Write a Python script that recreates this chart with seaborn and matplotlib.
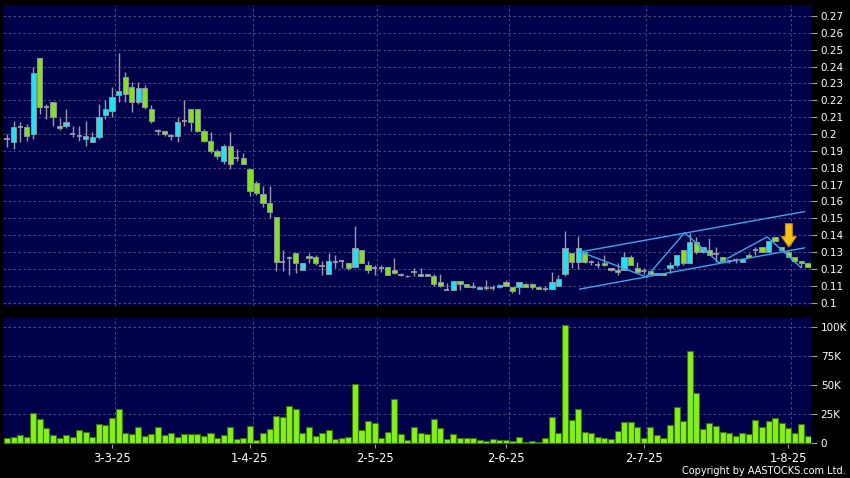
import numpy as np
import pandas as pd
import matplotlib
matplotlib.use("Agg")
import matplotlib.pyplot as plt
import seaborn as sns
from matplotlib.patches import FancyArrow

# ---------------- data ----------------
opens = [0.197, 0.195, 0.204, 0.204, 0.200, 0.245, 0.216, 0.219, 0.2035, 0.2045,
         0.200, 0.199, 0.197, 0.195, 0.198, 0.211, 0.2135, 0.223, 0.234, 0.228,
         0.219, 0.227, 0.215, 0.202, 0.202, 0.199, 0.199, 0.208, 0.215, 0.215,
         0.202, 0.196, 0.190, 0.184, 0.193, 0.1855, 0.1855, 0.1795, 0.171, 0.1645,
         0.159, 0.151, 0.124, 0.1265, 0.1295, 0.1195, 0.1265, 0.127, 0.122, 0.117,
         0.124, 0.1245, 0.1235, 0.121, 0.1313, 0.1225, 0.1205, 0.1205, 0.121, 0.1195,
         0.1165, 0.116, 0.118, 0.117, 0.1155, 0.116, 0.1122, 0.1075, 0.1075, 0.1128,
         0.111, 0.109, 0.108, 0.1087, 0.1087, 0.109, 0.112, 0.109, 0.109, 0.111,
         0.111, 0.109, 0.108, 0.108, 0.110, 0.117, 0.1295, 0.1242, 0.130, 0.1238,
         0.1225, 0.1235, 0.1205, 0.1195, 0.1195, 0.127, 0.1205, 0.119, 0.119, 0.1165,
         0.1176, 0.1205, 0.1222, 0.1313, 0.1235, 0.136, 0.130, 0.131, 0.129, 0.127,
         0.1247, 0.1255, 0.1242, 0.128, 0.131, 0.133, 0.130, 0.139, 0.133, 0.130,
         0.127, 0.1247, 0.1235]
closes = [0.197, 0.204, 0.204, 0.199, 0.236, 0.216, 0.216, 0.210, 0.205, 0.207,
          0.200, 0.199, 0.199, 0.198, 0.210, 0.215, 0.222, 0.2255, 0.224, 0.219,
          0.227, 0.216, 0.2075, 0.202, 0.200, 0.199, 0.207, 0.208, 0.207, 0.202,
          0.196, 0.190, 0.187, 0.193, 0.182, 0.1855, 0.1825, 0.166, 0.165, 0.159,
          0.154, 0.124, 0.124, 0.1265, 0.1235, 0.1235, 0.1277, 0.1235, 0.122, 0.1245,
          0.124, 0.1245, 0.1205, 0.1325, 0.1235, 0.1195, 0.1205, 0.1205, 0.1165, 0.1176,
          0.1165, 0.1155, 0.118, 0.1155, 0.117, 0.111, 0.110, 0.1075, 0.1128, 0.111,
          0.109, 0.109, 0.109, 0.1087, 0.1087, 0.1105, 0.110, 0.107, 0.112, 0.109,
          0.109, 0.108, 0.108, 0.112, 0.114, 0.1325, 0.1242, 0.1325, 0.1242, 0.1238,
          0.1225, 0.1225, 0.1195, 0.118, 0.127, 0.1222, 0.118, 0.119, 0.117, 0.1176,
          0.1165, 0.1222, 0.1284, 0.1235, 0.136, 0.130, 0.133, 0.1284, 0.129, 0.1247,
          0.1247, 0.1255, 0.126, 0.127, 0.131, 0.130, 0.1367, 0.1367, 0.131, 0.127,
          0.1247, 0.1235, 0.121]
highs = [0.200, 0.2075, 0.207, 0.206, 0.240, 0.245, 0.218, 0.219, 0.2095, 0.215,
         0.2045, 0.2045, 0.208, 0.201, 0.218, 0.220, 0.228, 0.248, 0.2365, 0.231,
         0.231, 0.229, 0.217, 0.2027, 0.202, 0.1998, 0.210, 0.220, 0.215, 0.215,
         0.203, 0.201, 0.191, 0.194, 0.201, 0.191, 0.189, 0.1795, 0.172, 0.169,
         0.169, 0.151, 0.131, 0.1275, 0.1295, 0.1235, 0.1295, 0.1285, 0.1245, 0.1295,
         0.1285, 0.1255, 0.1235, 0.1456, 0.1313, 0.1245, 0.1224, 0.1224, 0.121, 0.1265,
         0.1176, 0.1165, 0.1205, 0.1205, 0.117, 0.117, 0.117, 0.1115, 0.1128, 0.1128,
         0.111, 0.1125, 0.1095, 0.1135, 0.1105, 0.111, 0.1135, 0.109, 0.112, 0.1115,
         0.1115, 0.109, 0.110, 0.118, 0.1165, 0.1426, 0.1295, 0.1397, 0.130, 0.1255,
         0.1245, 0.1285, 0.1205, 0.1236, 0.130, 0.128, 0.1242, 0.1205, 0.119, 0.1176,
         0.1176, 0.1242, 0.1284, 0.1313, 0.1414, 0.139, 0.133, 0.1385, 0.1331, 0.127,
         0.1255, 0.1265, 0.126, 0.1295, 0.133, 0.133, 0.1367, 0.139, 0.133, 0.1315,
         0.127, 0.1247, 0.1235]
lows = [0.192, 0.191, 0.195, 0.196, 0.197, 0.212, 0.209, 0.205, 0.2025, 0.2036,
        0.1985, 0.196, 0.193, 0.195, 0.197, 0.209, 0.210, 0.219, 0.219, 0.213,
        0.2175, 0.215, 0.2065, 0.1992, 0.199, 0.1962, 0.195, 0.2045, 0.2015, 0.201,
        0.195, 0.189, 0.185, 0.182, 0.179, 0.184, 0.182, 0.163, 0.164, 0.157,
        0.150, 0.119, 0.119, 0.1165, 0.1176, 0.1195, 0.1235, 0.1225, 0.1165, 0.117,
        0.1205, 0.1205, 0.1195, 0.121, 0.1235, 0.1176, 0.1165, 0.118, 0.1165, 0.117,
        0.1155, 0.115, 0.1155, 0.1155, 0.1155, 0.110, 0.1095, 0.1075, 0.1075, 0.1075,
        0.109, 0.1085, 0.108, 0.1075, 0.1075, 0.1085, 0.110, 0.1057, 0.105, 0.109,
        0.108, 0.108, 0.1068, 0.108, 0.110, 0.1155, 0.1205, 0.120, 0.1235, 0.1225,
        0.1205, 0.122, 0.119, 0.1165, 0.1195, 0.1222, 0.118, 0.117, 0.1165, 0.1165,
        0.1165, 0.1176, 0.121, 0.1225, 0.1235, 0.129, 0.1295, 0.128, 0.1242, 0.1245,
        0.1235, 0.1235, 0.1242, 0.127, 0.1285, 0.130, 0.130, 0.1367, 0.1305, 0.127,
        0.1242, 0.121, 0.121]
volumes_k = [4.9, 5.7, 6.9, 5.4, 26.0, 20.9, 12.9, 6.9, 4.3, 6.9,
             5.7, 11.4, 9.4, 5.4, 16.9, 15.4, 21.4, 29.1, 9.1, 8.0,
             14.3, 6.6, 7.7, 13.7, 7.1, 8.9, 5.4, 7.7, 8.3, 8.0,
             6.0, 8.9, 4.6, 6.9, 14.3, 3.7, 4.3, 14.6, 2.9, 8.6,
             12.3, 23.4, 22.6, 32.3, 29.4, 9.1, 14.0, 6.0, 9.1, 11.1,
             4.0, 4.6, 5.1, 50.6, 11.7, 18.9, 17.4, 4.3, 10.0, 38.3,
             7.7, 2.6, 13.7, 9.1, 7.7, 20.9, 12.9, 4.0, 7.7, 4.9,
             4.3, 4.6, 2.6, 1.7, 3.7, 2.9, 3.1, 2.3, 5.1, 1.1,
             1.7, 1.4, 4.3, 22.9, 8.6, 101.4, 20.0, 29.7, 9.7, 9.1,
             5.1, 4.3, 3.7, 10.3, 18.0, 18.0, 13.7, 4.3, 13.7, 7.4,
             4.3, 16.0, 31.4, 19.4, 79.7, 43.1, 12.3, 17.1, 14.6, 9.4,
             8.6, 6.0, 8.9, 8.3, 20.0, 14.3, 19.1, 21.7, 17.1, 12.9,
             9.1, 16.3, 6.0]

tick_idx = [16, 37, 56, 76, 97, 119]
tick_labels = ["3-3-25", "1-4-25", "2-5-25", "2-6-25", "2-7-25", "1-8-25"]
price_ticks = [0.10, 0.11, 0.12, 0.13, 0.14, 0.15, 0.16, 0.17, 0.18,
               0.19, 0.20, 0.21, 0.22, 0.23, 0.24, 0.25, 0.26, 0.27]
vol_ticks = [0, 25000, 50000, 75000, 100000]
vol_tick_labels = ["0", "25K", "50K", "75K", "100K"]

# drawn trend annotations (index, price)
upper_x = [87.2, 121.5]
upper_y = [0.130, 0.154]
lower_x = [87.2, 121.5]
lower_y = [0.108, 0.1325]
zigzag_x = [87.4, 97.4, 103.2, 108.5, 115.8, 121.0]
zigzag_y = [0.130, 0.1152, 0.1414, 0.1236, 0.139, 0.1206]
arrow_x = 119.1
arrow_top = 0.1468
arrow_tip = 0.1330

# ---------------- styling ----------------
sns.set_style("dark")
plt.rcParams["font.family"] = ["DejaVu Sans"]

BG = "#000000"
PANEL = "#00004a"
GRID = "#56568e"
UP = "#22e2f2"
DOWN = "#84e024"
WICK = "#9a9aaa"
EDGE = "#8c94a0"
VOL = "#84f01c"
VOL_EDGE = "#3a7400"
LINE = "#3aa8ec"

n = len(opens)
df = pd.DataFrame({
    "idx": np.arange(n), "open": opens, "high": highs, "low": lows,
    "close": closes, "volume": np.array(volumes_k) * 1000.0,
})

fig = plt.figure(figsize=(8.5, 4.78), dpi=100, facecolor=BG)
W, H = 850.0, 478.0
ax1 = fig.add_axes([3 / W, 1 - 306 / H, 808 / W, 301 / H])
ax2 = fig.add_axes([3 / W, 1 - 444 / H, 808 / W, 126 / H])

xmin, xmax = -0.61, 122.47

for ax in (ax1, ax2):
    ax.set_facecolor(PANEL)
    for s in ax.spines.values():
        s.set_visible(False)
    ax.grid(False)

# ---- volume (seaborn) ----
sns.barplot(data=df, x="idx", y="volume", ax=ax2, color=VOL, saturation=1,
            edgecolor=VOL_EDGE, linewidth=0.8, width=0.92, zorder=3)
ax2.set_xlim(xmin, xmax)
ax2.set_ylim(-600, 107700)
ax2.set_xlabel("")
ax2.set_ylabel("")

# ---- candles ----
up = df["close"] > df["open"]
dn = df["close"] < df["open"]
dj = df["close"] == df["open"]
ax1.vlines(df["idx"], df["low"], df["high"], color=WICK, lw=1.0, zorder=3)
bw = 0.8
for mask, col in ((up, UP), (dn, DOWN)):
    sub = df[mask]
    bottoms = np.minimum(sub["open"], sub["close"])
    heights = np.abs(sub["close"] - sub["open"])
    ax1.bar(sub["idx"], heights, bottom=bottoms, width=bw, color=col,
            edgecolor=EDGE, linewidth=0.7, zorder=4)
sub = df[dj]
ax1.hlines(sub["open"], sub["idx"] - bw / 2, sub["idx"] + bw / 2,
           color=WICK, lw=1.3, zorder=4)

# trend lines
ax1.plot(upper_x, upper_y, color=LINE, lw=1.0, zorder=5)
ax1.plot(lower_x, lower_y, color=LINE, lw=1.0, zorder=5)
ax1.plot(zigzag_x, zigzag_y, color=LINE, lw=1.0, zorder=5)
ax1.add_patch(FancyArrow(arrow_x, arrow_top, 0, arrow_tip - arrow_top,
                         width=1.05, head_width=2.3, head_length=0.0062,
                         length_includes_head=True, facecolor="#f6c21a",
                         edgecolor="#c88a00", linewidth=0.8, zorder=6))

ax1.set_xlim(xmin, xmax)
ax1.set_ylim(0.0980, 0.2765)

# ---- grids ----
dash = (0, (3, 3))
for t in price_ticks:
    ax1.axhline(t, color=GRID, lw=0.6, ls=dash, zorder=1)
for t in vol_ticks:
    ax2.axhline(t, color=GRID, lw=0.6, ls=dash, zorder=1)
for t in tick_idx:
    ax1.axvline(t + 0.4, color=GRID, lw=0.6, ls=dash, zorder=1)
    ax2.axvline(t + 0.4, color=GRID, lw=0.6, ls=dash, zorder=1)

# ---- ticks ----
ax1.yaxis.tick_right()
ax1.set_yticks(price_ticks)
ax1.set_yticklabels([f"{v:g}" for v in price_ticks])
ax1.tick_params(axis="y", colors="#a0a0a0", labelcolor="white", length=4,
                width=0.8, pad=3, labelsize=7.5, right=True, left=False)
ax1.tick_params(axis="x", bottom=False, labelbottom=False)

ax2.yaxis.tick_right()
ax2.set_yticks(vol_ticks)
ax2.set_yticklabels(vol_tick_labels)
ax2.tick_params(axis="y", colors="#a0a0a0", labelcolor="white", length=4,
                width=0.8, pad=3, labelsize=7.5, right=True, left=False)
ax2.set_xticks(tick_idx)
ax2.set_xticklabels(tick_labels)
ax2.tick_params(axis="x", colors="#a0a0a0", labelcolor="white", length=3,
                width=0.8, pad=2.5, labelsize=8.3, bottom=True)

fig.text(846 / W, (478 - 473.5) / H, "Copyright by AASTOCKS.com Ltd.",
         ha="right", va="baseline", color="white", fontsize=7.0)

fig.savefig("out.png", dpi=100, facecolor=BG)
